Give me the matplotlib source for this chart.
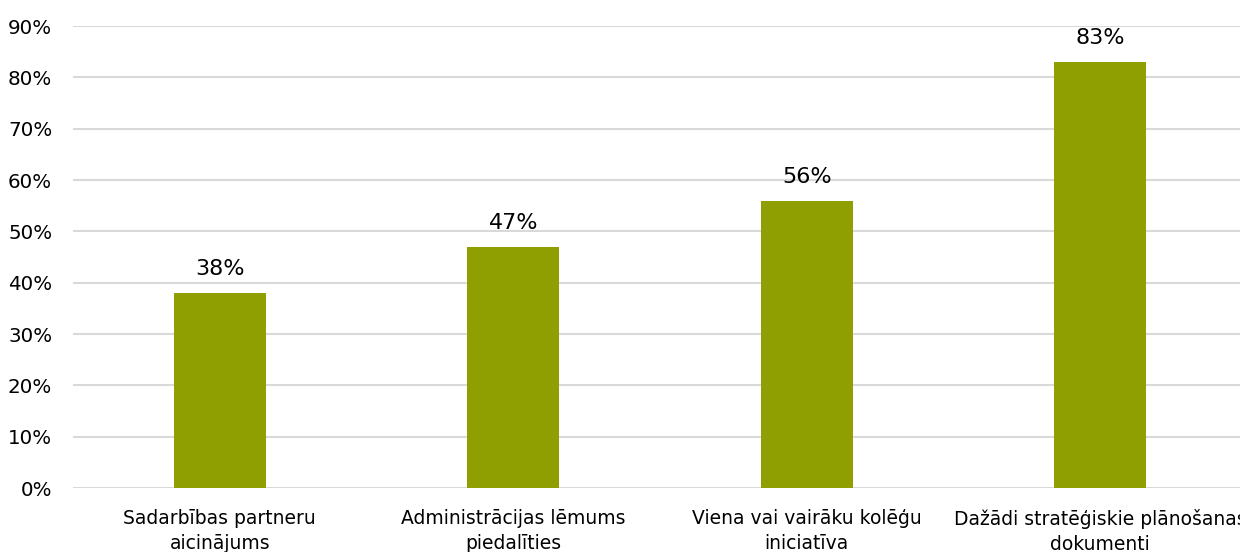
import matplotlib
matplotlib.use("Agg")
import matplotlib.pyplot as plt
from matplotlib.ticker import PercentFormatter

categories = ["Sadarbības partneru\naicinājums",
              "Administrācijas lēmums\npiedalīties",
              "Viena vai vairāku kolēģu\niniciatīva",
              "Dažādi stratēģiskie plānošanas\ndokumenti"]
values = [38, 47, 56, 83]
yticks = [0, 10, 20, 30, 40, 50, 60, 70, 80, 90]

plt.rcParams['font.family'] = ['DejaVu Sans']

fig = plt.figure(figsize=(12.4, 5.52), dpi=100)
ax = fig.add_axes([73/1240, 1-488/552, 1174/1240, (488-26)/552])

x = range(len(categories))
bars = ax.bar(x, values, width=0.313, color="#8F9E00", zorder=3)
for xi, v in zip(x, values):
    ax.annotate(f"{v}%", (xi, v), xytext=(0, 10), textcoords="offset points",
                ha="center", va="bottom", fontsize=16, color="#000000")

ax.set_xlim(-0.5, 3.5)
ax.set_ylim(0, 90)
ax.set_yticks(yticks)
ax.yaxis.set_major_formatter(PercentFormatter(decimals=0))
ax.set_xticks(list(x))
ax.set_xticklabels(categories, fontsize=13.5, linespacing=1.42)
ax.tick_params(axis='y', length=0, pad=15, labelsize=14.3)
ax.tick_params(axis='x', length=0, pad=15)
ax.grid(axis='y', color="#d9d9d9", linewidth=1.5, zorder=0)
for s in ax.spines.values():
    s.set_visible(False)

fig.savefig("out.png", dpi=100)
